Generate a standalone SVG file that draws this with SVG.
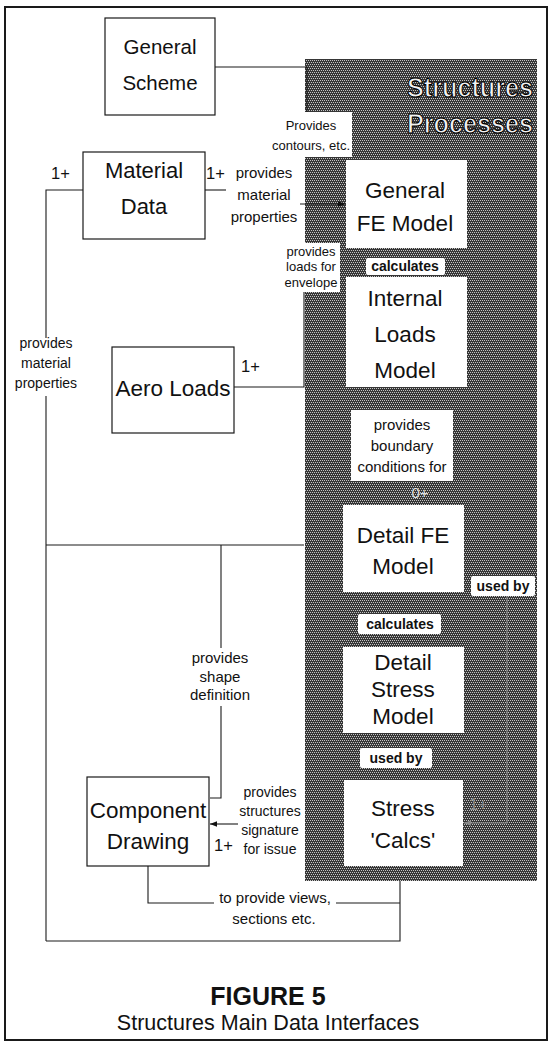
<svg xmlns="http://www.w3.org/2000/svg" width="551" height="1046" viewBox="0 0 551 1046">
<defs>
<pattern id="ht" width="4" height="4" patternUnits="userSpaceOnUse">
<rect width="4" height="4" fill="#363636"/>
<rect x="0" y="0" width="1" height="1" fill="#c4c4c4"/>
<rect x="2" y="0" width="1" height="1" fill="#c4c4c4"/>
<rect x="1" y="2" width="1" height="1" fill="#c4c4c4"/>
<rect x="3" y="2" width="1" height="1" fill="#c4c4c4"/>
</pattern>
<marker id="ah" viewBox="0 0 10 10" refX="10" refY="5" markerWidth="7" markerHeight="7" orient="auto" markerUnits="userSpaceOnUse">
<path d="M0,1 L10,5 L0,9 Z" fill="#111"/>
</marker>
<marker id="ahg" viewBox="0 0 10 10" refX="10" refY="5" markerWidth="7" markerHeight="7" orient="auto" markerUnits="userSpaceOnUse">
<path d="M0,1 L10,5 L0,9 Z" fill="#8a8a8a"/>
</marker>
<style>
text { font-family: "Liberation Sans", Arial, sans-serif; fill: #111; text-anchor: middle; }
.box { fill: #fff; stroke: #1a1a1a; stroke-width: 1.2; }
.pbox { fill: #fff; }
.wbg { fill: #fff; }
.node { font-size: 22.5px; }
.l15 { font-size: 15px; }
.l14 { font-size: 14px; }
.l13 { font-size: 13px; }
.lb { font-size: 14px; font-weight: bold; }
.one { font-size: 16.5px; text-anchor: start; }
.ln { stroke: #1a1a1a; stroke-width: 1.1; fill: none; }
.lng { stroke: #8a8a8a; stroke-width: 1.1; fill: none; }
.title { font-size: 28px; font-weight: bold; fill: #f2f2f2; stroke: #000; stroke-width: 1.1; }
</style>
</defs>

<rect x="5" y="7" width="542" height="1033" fill="#fff" stroke="#1a1a1a" stroke-width="2"/>

<g id="panel">
<rect x="305" y="59" width="232" height="822" fill="url(#ht)"/>
<text class="title" x="470" y="97" textLength="126" lengthAdjust="spacingAndGlyphs">Structures</text>
<text class="title" x="470" y="133" textLength="126" lengthAdjust="spacingAndGlyphs">Processes</text>
</g>

<g id="connectors">
<polyline class="ln" points="215,67 307,67 307,112"/>
<line class="ln" x1="205" y1="190" x2="226" y2="190"/>
<line class="ln" x1="300" y1="204" x2="345" y2="204" marker-end="url(#ah)"/>
<polyline class="ln" points="234,387 304,387 304,292"/>
<polyline class="ln" points="83,190 46,190 46,338"/>
<line class="ln" x1="46" y1="396" x2="46" y2="941"/>
<line class="ln" x1="46" y1="545" x2="304" y2="545"/>
<polyline class="ln" points="46,941 400,941 400,881"/>
<line class="ln" x1="221" y1="545" x2="221" y2="648"/>
<polyline class="ln" points="221,706 221,798 210,798"/>
<line class="ln" x1="238" y1="824" x2="210" y2="824" marker-end="url(#ah)"/>
<polyline class="ln" points="148,866 148,903 214,903"/>
<line class="ln" x1="336" y1="903" x2="400" y2="903"/>
<polyline class="lng" points="507,596 507,823 464,823" marker-end="url(#ahg)"/>
</g>

<g id="general-scheme">
<rect class="box" x="105" y="18" width="110" height="97"/>
<text class="node" x="160" y="54" style="font-size:20.5px">General</text>
<text class="node" x="160" y="90" style="font-size:20.5px">Scheme</text>
</g>

<g id="material-data">
<rect class="box" x="83" y="152" width="122" height="87"/>
<text class="node" x="144" y="178" style="font-size:22px">Material</text>
<text class="node" x="144" y="214" style="font-size:22px">Data</text>
</g>

<g id="aero-loads">
<rect class="box" x="112" y="347" width="122" height="86"/>
<text class="node" x="173" y="396">Aero Loads</text>
</g>

<g id="component-drawing">
<rect class="box" x="87" y="777" width="122" height="89"/>
<text class="node" x="148" y="818">Component</text>
<text class="node" x="148" y="849">Drawing</text>
</g>

<g id="general-fe-model">
<rect class="pbox" x="346" y="160" width="121" height="88"/>
<text class="node" x="405" y="198">General</text>
<text class="node" x="405" y="231">FE Model</text>
</g>

<g id="internal-loads-model">
<rect class="pbox" x="346" y="277" width="121" height="110"/>
<text class="node" x="405" y="306">Internal</text>
<text class="node" x="405" y="342">Loads</text>
<text class="node" x="405" y="378">Model</text>
</g>

<g id="detail-fe-model">
<rect class="pbox" x="343" y="505" width="121" height="87"/>
<text class="node" x="403" y="543">Detail FE</text>
<text class="node" x="403" y="574">Model</text>
</g>

<g id="detail-stress-model">
<rect class="pbox" x="343" y="647" width="121" height="86"/>
<text class="node" x="403" y="670">Detail</text>
<text class="node" x="403" y="697">Stress</text>
<text class="node" x="403" y="724">Model</text>
</g>

<g id="stress-calcs">
<rect class="pbox" x="344" y="780" width="119" height="86"/>
<text class="node" x="403" y="816">Stress</text>
<text class="node" x="403" y="848">'Calcs'</text>
</g>

<g id="labels">
<rect class="wbg" x="269" y="112" width="83" height="45"/>
<text class="l13" x="311" y="130">Provides</text>
<text class="l13" x="311" y="150">contours, etc.</text>

<text class="one" x="206" y="179">1+</text>
<text class="l15" x="264" y="178">provides</text>
<text class="l15" x="264" y="200">material</text>
<text class="l15" x="264" y="222">properties</text>

<rect class="wbg" x="282" y="243" width="58" height="49"/>
<text class="l13" x="311" y="256">provides</text>
<text class="l13" x="311" y="271">loads for</text>
<text class="l13" x="311" y="287">envelope</text>

<rect class="wbg" x="366" y="258" width="79" height="17" rx="2"/>
<text class="lb" x="405" y="271">calculates</text>

<text class="one" x="241" y="372">1+</text>

<rect class="wbg" x="351" y="410" width="102" height="71"/>
<text class="l15" x="402" y="430">provides</text>
<text class="l15" x="402" y="451">boundary</text>
<text class="l15" x="402" y="472">conditions for</text>
<text class="l15" x="420" y="498" style="fill:#dcdcdc">0+</text>

<rect class="wbg" x="471" y="576" width="64" height="20" rx="2"/>
<text class="lb" x="503" y="591">used by</text>

<rect class="wbg" x="358" y="614" width="83" height="20" rx="2"/>
<text class="lb" x="400" y="629">calculates</text>

<rect class="wbg" x="360" y="748" width="72" height="20" rx="2"/>
<text class="lb" x="396" y="763">used by</text>

<text class="one" x="469" y="810" style="fill:#8a8a8a">1+</text>

<text class="one" x="51" y="179">1+</text>
<text class="l14" x="46" y="348">provides</text>
<text class="l14" x="46" y="368">material</text>
<text class="l14" x="46" y="388">properties</text>

<text class="l15" x="220" y="663">provides</text>
<text class="l15" x="220" y="682">shape</text>
<text class="l15" x="220" y="700">definition</text>

<text class="l14" x="270" y="797">provides</text>
<text class="l14" x="270" y="816">structures</text>
<text class="l14" x="270" y="835">signature</text>
<text class="l14" x="270" y="854">for issue</text>
<text class="one" x="214" y="851">1+</text>

<text class="l15" x="275" y="903">to provide views,</text>
<text class="l15" x="274" y="924">sections etc.</text>
</g>

<g id="caption">
<text x="268" y="1005" style="font-size:25px;font-weight:bold">FIGURE 5</text>
<text x="268" y="1030" style="font-size:21.5px">Structures Main Data Interfaces</text>
</g>
</svg>
